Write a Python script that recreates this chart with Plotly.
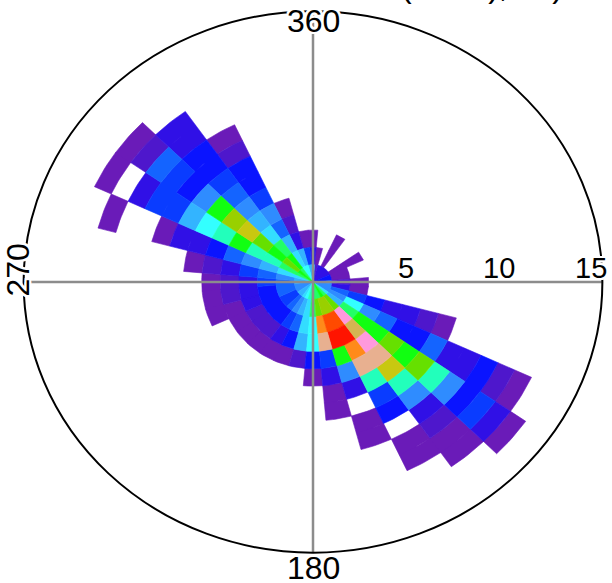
import numpy as np
import plotly.graph_objects as go

# ---- data: colour class (count level) per direction bin, radial bins 0-1, 1-2, ...
directions = list(range(10, 361, 10))
counts = {
    10: [2, 1],
    20: [3, 0],
    30: [3, 1, 1],
    40: [3, 0],
    50: [3, 0],
    60: [3, 1, 1],
    70: [4, 1],
    80: [4, 1],
    90: [6, 2, 1],
    100: [7, 3, 1],
    110: [7, 6, 5, 4, 3, 3, 2, 1],
    120: [7, 7, 10, 7, 6, 4, 4, 6, 3, 3, 4, 2, 1],
    130: [9, 8, 12, 13, 13, 14, 13, 14, 11, 7, 4, 5, 3, 1],
    140: [12, 14, 20, 22, 20, 21, 16, 11, 7, 3, 2, 1, 1],
    150: [13, 15, 18, 19, 17, 21, 11, 5, 4, 0, 1, 1],
    160: [12, 15, 18, 19, 13, 7, 3, 0, 1, 1],
    170: [12, 14, 17, 21, 5, 3, 1, 1],
    180: [12, 12, 10, 10, 4, 1],
    190: [11, 9, 9, 8, 2],
    200: [10, 8, 6, 4, 1],
    210: [9, 7, 5, 3, 1],
    220: [8, 6, 4, 2, 1],
    230: [8, 5, 4, 2, 1],
    240: [7, 5, 4, 2, 1],
    250: [7, 6, 4, 3, 1, 1],
    260: [7, 6, 4, 3, 2, 1],
    270: [8, 6, 5, 3, 2, 1],
    280: [8, 7, 6, 5, 3, 2, 1],
    290: [9, 9, 8, 7, 6, 4, 3, 3, 1, 0, 0, 1],
    300: [12, 12, 11, 11, 13, 11, 10, 8, 5, 5, 3, 0, 1],
    310: [13, 14, 13, 14, 16, 15, 13, 7, 4, 5, 6, 2, 1],
    320: [12, 13, 12, 9, 8, 7, 6, 5, 4, 4, 3, 3],
    330: [10, 9, 8, 6, 7, 5, 4, 4, 2, 1],
    340: [10, 8, 3, 2, 1],
    350: [8, 5, 1],
    360: [8, 3, 1],
}
palette = [None,
           "#6a1bb8", "#4e17cc", "#3010e6", "#0a14ff", "#0a3cff", "#1464ff",
           "#2f8cff", "#33b4ff", "#33ddff", "#33ffff", "#22ffbb", "#22ff66",
           "#11ff11", "#66e000", "#99d000", "#c8c810", "#ff8a1a", "#ff4a00",
           "#ff1400", "#ff99dd", "#e8b090", "#d4b452"]
radial_ticks = [5, 10, 15]
angle_labels = ["360", "180", "270"]
rmax = 15.6
bin_width = 10

fig = go.Figure()

polys = {lvl: ([], []) for lvl in range(1, len(palette))}
for d in directions:
    for k, lvl in enumerate(counts[d]):
        if lvl == 0:
            continue
        phi = np.radians(np.linspace(d - bin_width / 2, d + bin_width / 2, 9))
        xs = list((k + 1) * np.sin(phi)) + list(k * np.sin(phi[::-1]))
        ys = list((k + 1) * np.cos(phi)) + list(k * np.cos(phi[::-1]))
        xs.append(xs[0]); ys.append(ys[0])
        polys[lvl][0].extend(xs + [None])
        polys[lvl][1].extend(ys + [None])

for lvl, (xs, ys) in polys.items():
    if not xs:
        continue
    fig.add_trace(go.Scatter(x=xs, y=ys, mode="lines", fill="toself",
                             fillcolor=palette[lvl],
                             line=dict(color=palette[lvl], width=0.6),
                             hoverinfo="skip", showlegend=False))

# axis cross lines and outer circle
grey = "#8c8c8c"
fig.add_shape(type="line", x0=-rmax, x1=rmax, y0=0, y1=0,
              line=dict(color=grey, width=2.5), layer="above")
fig.add_shape(type="line", x0=0, x1=0, y0=-rmax, y1=rmax,
              line=dict(color=grey, width=2.5), layer="above")
fig.add_shape(type="circle", x0=-rmax, x1=rmax, y0=-rmax, y1=rmax,
              line=dict(color="black", width=2), layer="above")

halo = ("2px 0 0 white, -2px 0 0 white, 0 2px 0 white, 0 -2px 0 white, "
        "2px 2px 0 white, -2px -2px 0 white, 2px -2px 0 white, -2px 2px 0 white")
fam = "Liberation Sans, Arial, sans-serif"

for t in radial_ticks:
    fig.add_annotation(x=t, y=0, text=str(t), showarrow=False,
                       xanchor="center", yanchor="bottom", yshift=-4,
                       font=dict(size=29, color="black", family=fam, shadow=halo))

fig.add_annotation(x=0, y=rmax, text=angle_labels[0], showarrow=False,
                   xanchor="center", yanchor="middle", yshift=-10,
                   font=dict(size=32, color="black", family=fam, shadow=halo))
fig.add_annotation(x=0, y=-rmax, text=angle_labels[1], showarrow=False,
                   xanchor="center", yanchor="middle", yshift=-15,
                   font=dict(size=32, color="black", family=fam, shadow=halo))
fig.add_annotation(x=-rmax, y=0, text=angle_labels[2], showarrow=False,
                   xanchor="center", yanchor="middle", textangle=-90, xshift=-6, yshift=12,
                   font=dict(size=32, color="black", family=fam, shadow=halo))

# title, mostly cut off at the top of the page
fig.add_annotation(xref="paper", yref="paper", x=(403 - 4) / 612, y=1 + 14 / 583,
                   text="(knots), dir)", showarrow=False, xanchor="left",
                   yanchor="middle", font=dict(size=32, color="black", family=fam))

sx, sy = 18.55, 17.35
cx, cy = 313, 282
fig.update_layout(
    width=612, height=583,
    margin=dict(l=0, r=0, t=0, b=0),
    paper_bgcolor="white", plot_bgcolor="white",
    xaxis=dict(range=[-cx / sx, (612 - cx) / sx], visible=False, fixedrange=True),
    yaxis=dict(range=[-(583 - cy) / sy, cy / sy], visible=False, fixedrange=True),
)
fig.write_html("out.html", config={"displayModeBar": False},
               post_script="document.body.style.margin='0';document.body.style.overflow='hidden';")
